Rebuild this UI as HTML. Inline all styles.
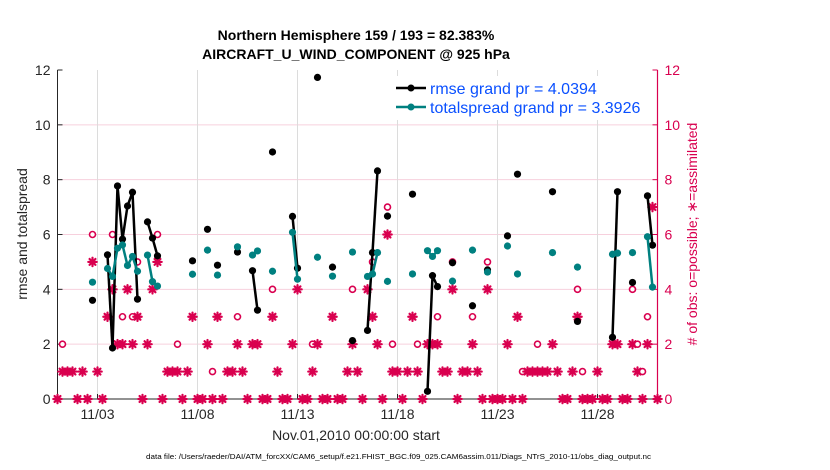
<!DOCTYPE html>
<html><head><meta charset="utf-8"><style>
html,body{margin:0;padding:0;background:#fff;}
svg{display:block;font-family:"Liberation Sans",Arial,sans-serif;}
</style></head><body>
<svg id="chart" width="830" height="470" viewBox="0 0 830 470" xmlns="http://www.w3.org/2000/svg">
<rect width="830" height="470" fill="#fff"/>
<g id="grid"></g>
<g id="axes"></g>
<g id="marks"></g>
<text x="356" y="40" text-anchor="middle" font-size="14" font-weight="bold" fill="#000">Northern Hemisphere 159 / 193 = 82.383%</text>
<text x="356" y="59" text-anchor="middle" font-size="14" font-weight="bold" fill="#000">AIRCRAFT_U_WIND_COMPONENT @ 925 hPa</text>
<text transform="translate(27,234) rotate(-90)" text-anchor="middle" font-size="14" fill="#262626">rmse and totalspread</text>
<text transform="translate(697,234) rotate(-90)" text-anchor="middle" font-size="14" fill="#d9004f"># of obs: o=possible; ∗=assimilated</text>
<text x="356" y="440" text-anchor="middle" font-size="14" fill="#262626">Nov.01,2010 00:00:00 start</text>
<text x="146" y="459" font-size="7.5" textLength="505" lengthAdjust="spacingAndGlyphs" fill="#000">data file: /Users/raeder/DAI/ATM_forcXX/CAM6_setup/f.e21.FHIST_BGC.f09_025.CAM6assim.011/Diags_NTrS_2010-11/obs_diag_output.nc</text>
<g>
<rect x="392" y="76" width="262" height="44" fill="#fff"/>
<line x1="396" y1="88" x2="426" y2="88" stroke="#000" stroke-width="2.5"/>
<circle cx="411" cy="88" r="3.5" fill="#000"/>
<text x="430" y="94" font-size="16" fill="#0a50ff">rmse grand pr = 4.0394</text>
<line x1="396" y1="107" x2="426" y2="107" stroke="#008080" stroke-width="2.5"/>
<circle cx="411" cy="107" r="3.5" fill="#008080"/>
<text x="430" y="113" font-size="16" fill="#0a50ff">totalspread grand pr = 3.3926</text>
</g>
</svg>
<script>
// ---- data ----
const times = [1.75,2.5,2.75,3.0,3.25,3.5,3.75,4.0,4.5,4.75,5.0,6.75,7.5,8.0,9.0,9.75,10.0,10.75,11.75,12.0,13.0,13.75,14.75,15.5,15.75,16.0,16.5,17.75,18.5,18.75,19.0,19.75,20.75,21.5,22.5,23.0,24.75,26.0,27.75,28.0,28.75,29.5,29.75];
const rmse = [3.6,5.26,1.86,7.77,5.83,7.04,7.54,3.64,6.46,5.87,5.22,5.04,6.19,4.88,5.36,4.68,3.24,9.01,6.66,4.77,11.73,4.81,2.13,2.5,5.34,8.32,6.67,7.47,0.28,4.5,4.1,4.97,3.4,4.71,5.95,8.2,7.56,2.83,2.25,7.56,4.25,7.41,5.61];
const spread = [4.26,4.76,4.47,5.5,5.62,4.87,5.2,4.66,5.25,4.28,4.12,4.55,5.43,4.52,5.55,5.25,5.4,4.66,6.08,4.37,5.17,4.48,5.36,4.47,4.56,5.34,4.29,4.56,5.41,5.2,5.41,4.3,5.43,4.63,5.58,4.56,5.34,4.81,5.28,5.32,5.34,5.92,4.08];
const obsTimes = [0,0.25,0.5,0.75,1,1.25,1.5,1.75,2,2.25,2.5,2.75,3,3.25,3.5,3.75,4,4.25,4.5,4.75,5,5.25,5.5,5.75,6,6.25,6.5,6.75,7,7.25,7.5,7.75,8,8.25,8.5,8.75,9,9.25,9.5,9.75,10,10.25,10.5,10.75,11,11.25,11.5,11.75,12,12.25,12.5,12.75,13,13.25,13.5,13.75,14,14.25,14.5,14.75,15,15.25,15.5,15.75,16,16.25,16.5,16.75,17,17.25,17.5,17.75,18,18.25,18.5,18.75,19,19.25,19.5,19.75,20,20.25,20.5,20.75,21,21.25,21.5,21.75,22,22.25,22.5,22.75,23,23.25,23.5,23.75,24,24.25,24.5,24.75,25,25.25,25.5,25.75,26,26.25,26.5,26.75,27,27.25,27.5,27.75,28,28.25,28.5,28.75,29,29.25,29.5,29.75,30];
const assimilated = [0,1,1,1,0,1,0,5,1,0,3,4,2,2,4,2,3,0,2,4,5,0,1,1,1,0,1,3,0,0,2,0,3,0,1,1,2,1,0,2,2,0,0,3,1,0,0,2,4,0,0,1,2,0,0,3,0,0,1,2,1,0,4,3,2,0,6,1,1,0,1,3,1,0,2,2,2,1,1,4,0,1,1,2,1,0,4,0,0,0,2,0,3,0,1,1,1,1,1,2,1,0,0,1,3,0,0,0,1,0,0,2,2,0,0,2,1,0,2,7,0];
const possible = [0,2,1,1,0,1,0,6,1,0,3,6,2,3,4,3,5,0,2,4,6,0,1,1,2,0,1,3,0,0,2,1,3,0,1,1,3,1,0,2,2,0,0,4,1,0,0,2,4,0,0,2,2,0,0,3,0,0,1,4,1,0,4,5,2,0,7,2,1,0,1,3,2,0,2,2,3,1,1,5,0,1,1,3,1,0,5,0,0,0,2,0,3,1,1,1,2,1,1,2,1,0,0,1,4,1,0,0,1,0,0,2,2,0,0,4,2,1,3,7,0];
const yTicks = [0,2,4,6,8,10,12];
const xTickDays = [2,7,12,17,22,27];
const xTickLabels = ["11/03","11/08","11/13","11/18","11/23","11/28"];

// ---- axes ----
const L=57.5, R=657.5, T=70, B=399;
const X0=0, X1=30, Y0=0, Y1=12;
const CR="#d9004f";
function xs(d){return L+(d-X0)/(X1-X0)*(R-L);}
function ys(v){return B-(v-Y0)/(Y1-Y0)*(B-T);}
const NS="http://www.w3.org/2000/svg";
function mk(tag,attrs,parent){const e=document.createElementNS(NS,tag);for(const k in attrs)e.setAttribute(k,attrs[k]);parent.appendChild(e);return e;}
const grid=document.getElementById('grid'), axes=document.getElementById('axes'), marks=document.getElementById('marks');

yTicks.forEach(v=>{
  if(v>0&&v<12){const g=mk('line',{x1:L,x2:R,y1:ys(v),y2:ys(v),stroke:'#f7d0dd','stroke-width':1},grid);
  
  }
  const t=mk('text',{x:L-7,y:ys(v)+5,'text-anchor':'end','font-size':14,fill:'#262626'},axes);t.textContent=v;
  
  
  const t2=mk('text',{x:R+7,y:ys(v)+5,'font-size':14,fill:CR},axes);t2.textContent=v;
  
  
  mk('line',{x1:L,x2:L+5,y1:ys(v),y2:ys(v),stroke:'#262626'},axes);
  mk('line',{x1:R-5,x2:R,y1:ys(v),y2:ys(v),stroke:CR},axes);
});
xTickDays.forEach((d,i)=>{
  const g=mk('line',{x1:xs(d),x2:xs(d),y1:T,y2:B,stroke:'#dcdcdc','stroke-width':1},grid);
  
  
  mk('line',{x1:xs(d),x2:xs(d),y1:B,y2:B-5,stroke:'#262626'},axes);
  const t=mk('text',{x:xs(d),y:B+20,'text-anchor':'middle','font-size':14,fill:'#262626'},axes);t.textContent=xTickLabels[i];
  
  
});
const la=mk('line',{x1:L,x2:L,y1:T,y2:B,stroke:'#262626','stroke-width':1},axes);


const ba=mk('line',{x1:L,x2:R,y1:B,y2:B,stroke:'#262626','stroke-width':1},axes);


const ra=mk('line',{x1:R,x2:R,y1:T,y2:B,stroke:CR,'stroke-width':1.2},axes);



// ---- obs markers ----
obsTimes.forEach((d,i)=>{
  const x=xs(d), p=possible[i], a=assimilated[i];
  if(p!==a){
    const c=mk('circle',{cx:x,cy:ys(p),r:3,fill:'#fff',stroke:CR,'stroke-width':1.6},marks);
    
    
  }
  const y=ys(a), r=4.2;
  const g=mk('g',{stroke:CR,'stroke-width':2.2,'stroke-linecap':'round'},marks);
  
  
  mk('line',{x1:x-r,x2:x+r,y1:y,y2:y},g);
  mk('line',{x1:x,x2:x,y1:y-r,y2:y+r},g);
  mk('line',{x1:x-r*0.7,x2:x+r*0.7,y1:y-r*0.7,y2:y+r*0.7},g);
  mk('line',{x1:x-r*0.7,x2:x+r*0.7,y1:y+r*0.7,y2:y-r*0.7},g);
});

// ---- series ----
function series(vals,color,name){
  for(let i=1;i<times.length;i++){
    if(Math.abs(times[i]-times[i-1]-0.25)<1e-6){
      const l=mk('line',{x1:xs(times[i-1]),y1:ys(vals[i-1]),x2:xs(times[i]),y2:ys(vals[i]),stroke:color,'stroke-width':2.5},marks);
      
      
    }
  }
  times.forEach((d,i)=>{
    const c=mk('circle',{cx:xs(d),cy:ys(vals[i]),r:3.6,fill:color},marks);
    
    
  });
}
series(rmse,'#000','rmse');
series(spread,'#008080','totalspread');
</script>
</body></html>
